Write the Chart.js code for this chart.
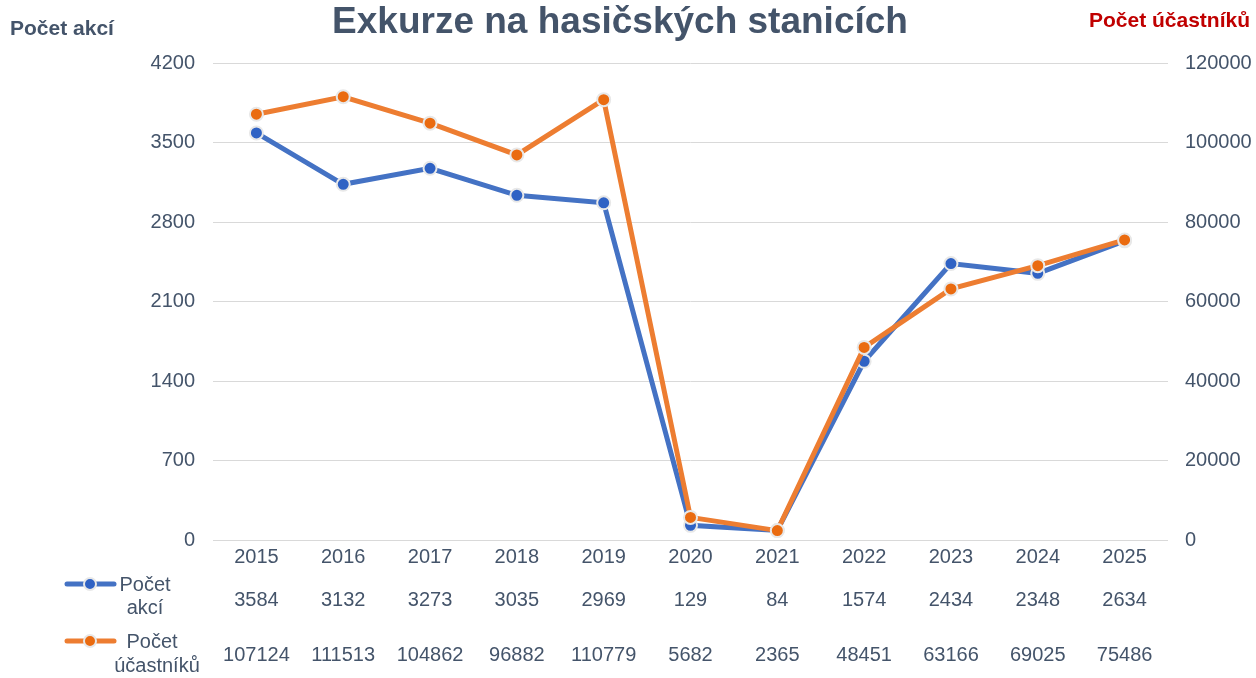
<!DOCTYPE html>
<html>
<head>
<meta charset="utf-8">
<script src="https://cdn.jsdelivr.net/npm/chart.js@4.4.1/dist/chart.umd.min.js"></script>
<style>
  html, body { margin: 0; padding: 0; background: #fff; }
  #wrap { width: 1256px; height: 678px; }
</style>
</head>
<body>
<div id="wrap"><canvas id="chart"></canvas></div>
<script>
// data
const years = ['2015', '2016', '2017', '2018', '2019', '2020', '2021', '2022', '2023', '2024', '2025'];
const akce = [3584, 3132, 3273, 3035, 2969, 129, 84, 1574, 2434, 2348, 2634];
const ucastnici = [107124, 111513, 104862, 96882, 110779, 5682, 2365, 48451, 63166, 69025, 75486];
const leftTicks = [0, 700, 1400, 2100, 2800, 3500, 4200];
const rightTicks = [0, 20000, 40000, 60000, 80000, 100000, 120000];

const textColor = '#44546a';
const blue = '#4472c4';
const orange = '#ed7d31';
const font = 'Liberation Sans, Arial, sans-serif';

// titles + data table under the x axis
const extras = {
    id: 'extras',
    afterDraw(chart) {
        const ctx = chart.ctx;
        const x = chart.scales.x;
        ctx.save();

        ctx.fillStyle = textColor;
        ctx.font = 'bold 37px ' + font;
        ctx.textAlign = 'center';
        ctx.textBaseline = 'middle';
        ctx.fillText('Exkurze na hasičských stanicích', 620, 23);

        ctx.font = 'bold 21px ' + font;
        ctx.textAlign = 'left';
        ctx.fillText('Počet akcí', 10, 29);
        ctx.fillStyle = '#c00000';
        ctx.textAlign = 'right';
        ctx.fillText('Počet účastníků', 1250, 21);

        // legend keys
        function key(color, fill, y) {
            ctx.strokeStyle = color;
            ctx.lineWidth = 5;
            ctx.lineCap = 'round';
            ctx.beginPath();
            ctx.moveTo(67, y);
            ctx.lineTo(114, y);
            ctx.stroke();
            ctx.beginPath();
            ctx.arc(90, y, 6, 0, Math.PI * 2);
            ctx.fillStyle = fill;
            ctx.fill();
            ctx.lineWidth = 2;
            ctx.strokeStyle = '#e8e8e8';
            ctx.stroke();
        }
        key(blue, '#2f62c4', 584);
        key(orange, '#ea6b10', 641);

        ctx.fillStyle = textColor;
        ctx.font = '20px ' + font;
        ctx.textAlign = 'center';
        ctx.fillText('Počet', 145, 585);
        ctx.fillText('akcí', 145, 608);
        ctx.fillText('Počet', 152, 642);
        ctx.fillText('účastníků', 157, 666);

        akce.forEach((v, i) => {
            ctx.fillText(String(v), x.getPixelForValue(i), 600);
        });
        ucastnici.forEach((v, i) => {
            ctx.fillText(String(v), x.getPixelForValue(i), 655);
        });
        ctx.restore();
    }
};

const tickFont = { family: font, size: 20 };

new Chart(document.getElementById('chart'), {
    type: 'line',
    data: {
        labels: years,
        datasets: [
            {
                label: 'Počet akcí',
                data: akce,
                yAxisID: 'y',
                borderColor: blue,
                backgroundColor: '#2f62c4',
                borderWidth: 5,
                pointRadius: 6.5,
                pointBorderWidth: 2,
                pointBorderColor: '#e8e8e8',
                pointBackgroundColor: '#2f62c4',
                tension: 0,
                order: 1
            },
            {
                label: 'Počet účastníků',
                data: ucastnici,
                yAxisID: 'y1',
                borderColor: orange,
                backgroundColor: '#ea6b10',
                borderWidth: 5,
                pointRadius: 6.5,
                pointBorderWidth: 2,
                pointBorderColor: '#e8e8e8',
                pointBackgroundColor: '#ea6b10',
                tension: 0,
                order: 0
            }
        ]
    },
    options: {
        responsive: true,
        maintainAspectRatio: false,
        animation: false,
        layout: { padding: { top: 63, left: 0, right: 0, bottom: 0 } },
        plugins: {
            legend: { display: false },
            title: { display: false },
            tooltip: { enabled: false }
        },
        scales: {
            x: {
                offset: true,
                grid: { display: false, drawTicks: false },
                border: { display: false },
                ticks: { color: textColor, font: tickFont, padding: 5 },
                afterFit: s => { s.height = 138; }
            },
            y: {
                position: 'left',
                min: 0,
                max: 4200,
                afterBuildTicks: s => { s.ticks = leftTicks.map(v => ({ value: v })); },
                grid: { color: '#d9d9d9', lineWidth: 1, drawTicks: false },
                border: { display: false },
                ticks: { color: textColor, font: tickFont, padding: 18, callback: v => String(v) },
                afterFit: s => { s.width = 213; }
            },
            y1: {
                position: 'right',
                min: 0,
                max: 120000,
                afterBuildTicks: s => { s.ticks = rightTicks.map(v => ({ value: v })); },
                grid: { display: false, drawTicks: false },
                border: { display: false },
                ticks: { color: textColor, font: tickFont, padding: 17, callback: v => String(v) },
                afterFit: s => { s.width = 88; }
            }
        }
    },
    plugins: [extras]
});
</script>
</body>
</html>
